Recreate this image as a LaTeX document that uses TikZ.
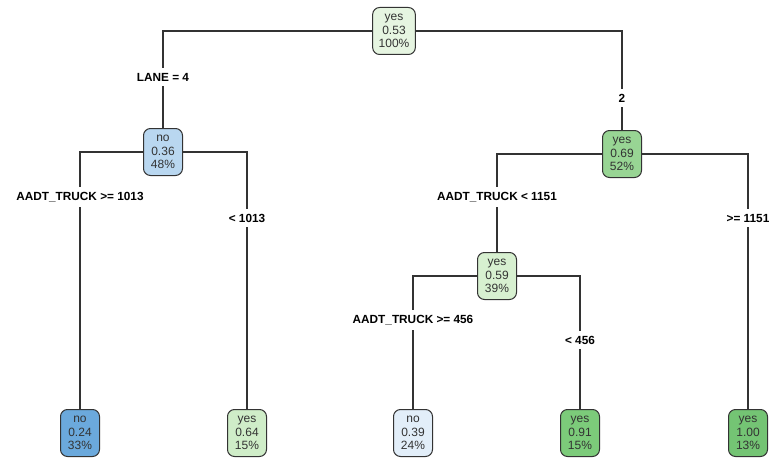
\documentclass[tikz,border=0pt]{standalone}
\usepackage{fontspec}
\setmainfont{Liberation Sans}
\definecolor{cRoot}{HTML}{E6F5E1}
\definecolor{cL}{HTML}{B9D7F0}
\definecolor{cLL}{HTML}{6BA9DC}
\definecolor{cLR}{HTML}{CFEDC8}
\definecolor{cR}{HTML}{98D594}
\definecolor{cRL}{HTML}{D7F0D0}
\definecolor{cRLL}{HTML}{E2EEF9}
\definecolor{cRLR}{HTML}{7CCB7A}
\definecolor{cRR}{HTML}{74C474}
\definecolor{edgecol}{HTML}{333333}
\definecolor{txtcol}{HTML}{333333}
\begin{document}
\begin{tikzpicture}[x=1pt,y=-1pt,
  box/.style={draw=edgecol, line width=1pt, rounded corners=7pt,
    minimum width=39pt, minimum height=47pt, inner xsep=6pt, inner ysep=2pt,
    align=center, font=\fontsize{12}{13.8}\selectfont, text=txtcol},
  lab/.style={font=\bfseries\fontsize{11.8}{13}\selectfont, inner xsep=1pt, inner ysep=5pt, text=black},
  conn/.style={draw=edgecol, line width=1.3pt}]
\useasboundingbox (0,0) rectangle (771,460);
% nodes
\node[box, fill=cRoot] (root) at (394,31) {yes\\0.53\\100\%};
\node[box, fill=cL] (n2) at (163,152) {no\\0.36\\48\%};
\node[box, fill=cR] (n3) at (622,154) {yes\\0.69\\52\%};
\node[box, fill=cRL] (n6) at (497,276) {yes\\0.59\\39\%};
\node[box, fill=cLL] (n4) at (80,433) {no\\0.24\\33\%};
\node[box, fill=cLR] (n5) at (247,433) {yes\\0.64\\15\%};
\node[box, fill=cRLL] (n12) at (413,433) {no\\0.39\\24\%};
\node[box, fill=cRLR] (n13) at (580,433) {yes\\0.91\\15\%};
\node[box, fill=cRR] (n7) at (748,433) {yes\\1.00\\13\%};
% labels
\node[lab] (l2) at (163,77) {LANE = 4};
\node[lab] (l3) at (622,98) {2};
\node[lab] (l4) at (80,197) {AADT\_TRUCK >= 1013};
\node[lab] (l5) at (247,218) {< 1013};
\node[lab] (l6) at (497,197) {AADT\_TRUCK < 1151};
\node[lab] (l7) at (748,218) {>= 1151};
\node[lab] (l12) at (413,320) {AADT\_TRUCK >= 456};
\node[lab] (l13) at (580,340) {< 456};
% connectors
\draw[conn] (root.west) -| (l2.north);
\draw[conn] (l2.south) -- (n2.north);
\draw[conn] (root.east) -| (l3.north);
\draw[conn] (l3.south) -- (n3.north);
\draw[conn] (n2.west) -| (l4.north);
\draw[conn] (l4.south) -- (n4.north);
\draw[conn] (n2.east) -| (l5.north);
\draw[conn] (l5.south) -- (n5.north);
\draw[conn] (n3.west) -| (l6.north);
\draw[conn] (l6.south) -- (n6.north);
\draw[conn] (n3.east) -| (l7.north);
\draw[conn] (l7.south) -- (n7.north);
\draw[conn] (n6.west) -| (l12.north);
\draw[conn] (l12.south) -- (n12.north);
\draw[conn] (n6.east) -| (l13.north);
\draw[conn] (l13.south) -- (n13.north);
\end{tikzpicture}
\end{document}
